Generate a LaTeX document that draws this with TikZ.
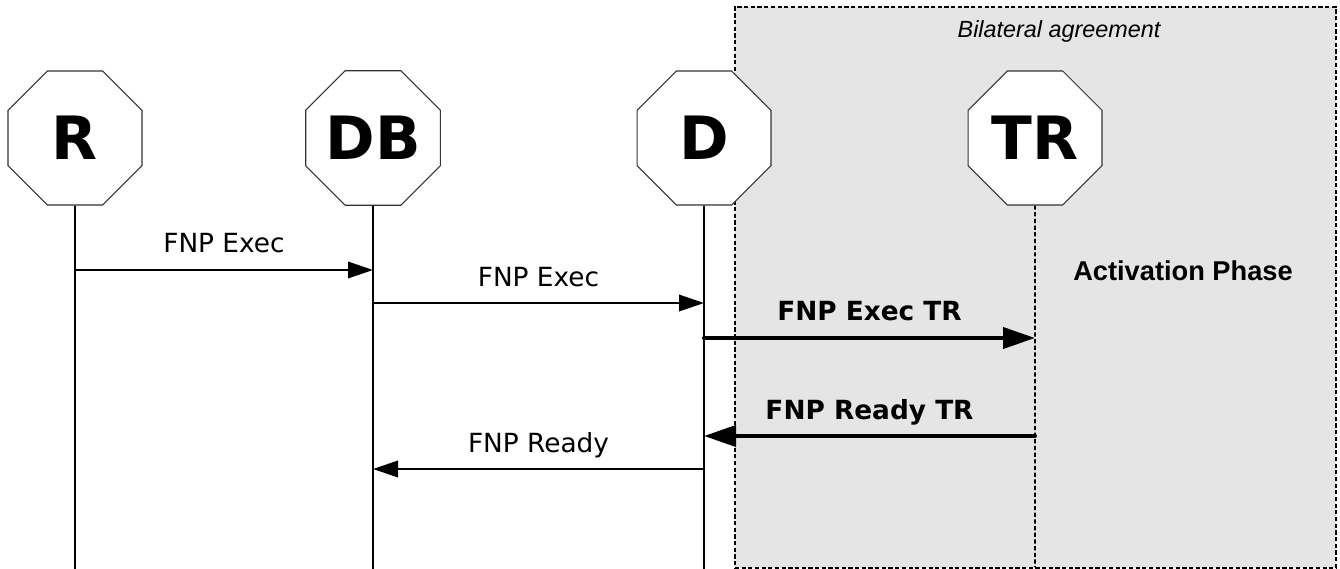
\documentclass[tikz,border=0pt]{standalone}
\usepackage{fontspec}
\setmainfont{DejaVu Sans}
\newfontfamily\arialfont{Liberation Sans}
\usetikzlibrary{positioning}
\usetikzlibrary{shapes.geometric}
\usetikzlibrary{arrows.meta}
\definecolor{phasegray}{HTML}{E5E5E5}

\begin{document}
\begin{tikzpicture}[
  actor/.style={draw=black!80, line width=0.6pt, fill=white, regular polygon, regular polygon sides=8, minimum size=2.9cm, inner sep=0pt, font=\fontsize{34}{40}\selectfont\bfseries},
  lifeline/.style={line width=0.9pt},
  dashline/.style={line width=1pt, dash pattern=on 2.4pt off 1.4pt},
  msg/.style={line width=1.1pt, -{Triangle[length=0.5cm, width=0.33cm]}},
  bigmsg/.style={line width=2.3pt, line cap=round, -{Triangle[length=0.64cm, width=0.42cm]}},
  msglabel/.style={anchor=base, yshift=0.34cm, font=\fontsize{15}{18}\selectfont},
  biglabel/.style={msglabel, font=\fontsize{15}{18}\selectfont\bfseries},
  phasebox/.style={draw, fill=phasegray, dashline, inner sep=0pt}
]
\useasboundingbox (0,0) rectangle (26.8,-11.38);

% Shaded region: bilateral agreement
\node[phasebox, anchor=north west, minimum width=12.02cm, minimum height=11.22cm] (bilat) at (14.68,-0.12) {};
\node[font=\arialfont\itshape\fontsize{13.3}{16}\selectfont] (bilabel) at (21.18,-0.62) {Bilateral agreement};
\node[font=\arialfont\bfseries\fontsize{15.5}{18}\selectfont] (phase) at (23.66,-5.42) {Activation Phase};

% Actors
\node[actor] (R) at (1.5,-2.76) {R};
\node[actor] (DB) at (7.46,-2.76) {DB};
\node[actor] (D) at (14.08,-2.76) {D};
\node[actor] (TR) at (20.70,-2.76) {TR};

% Lifelines
\coordinate (Rend) at (1.5,-11.38);
\coordinate (DBend) at (7.46,-11.38);
\coordinate (Dend) at (14.08,-11.38);
\coordinate (TRend) at (20.70,-11.34);
\draw[lifeline] (R.south) -- (Rend);
\draw[lifeline] (DB.south) -- (DBend);
\draw[lifeline] (D.south) -- (Dend);
\draw[dashline] (TR.south) -- (TRend);

% Messages
\draw[msg] (R |- 0,-5.40) -- node[msglabel] {FNP Exec} (DB |- 0,-5.40);
\draw[msg] (DB |- 0,-6.06) -- node[msglabel] {FNP Exec} (D |- 0,-6.06);
\draw[bigmsg] (D |- 0,-6.76) -- node[biglabel] {FNP Exec TR} (TR |- 0,-6.76);
\draw[bigmsg] (TR |- 0,-8.72) -- node[biglabel] {FNP Ready TR} (D |- 0,-8.72);
\draw[msg] (D |- 0,-9.38) -- node[msglabel] {FNP Ready} (DB |- 0,-9.38);

\end{tikzpicture}
\end{document}
